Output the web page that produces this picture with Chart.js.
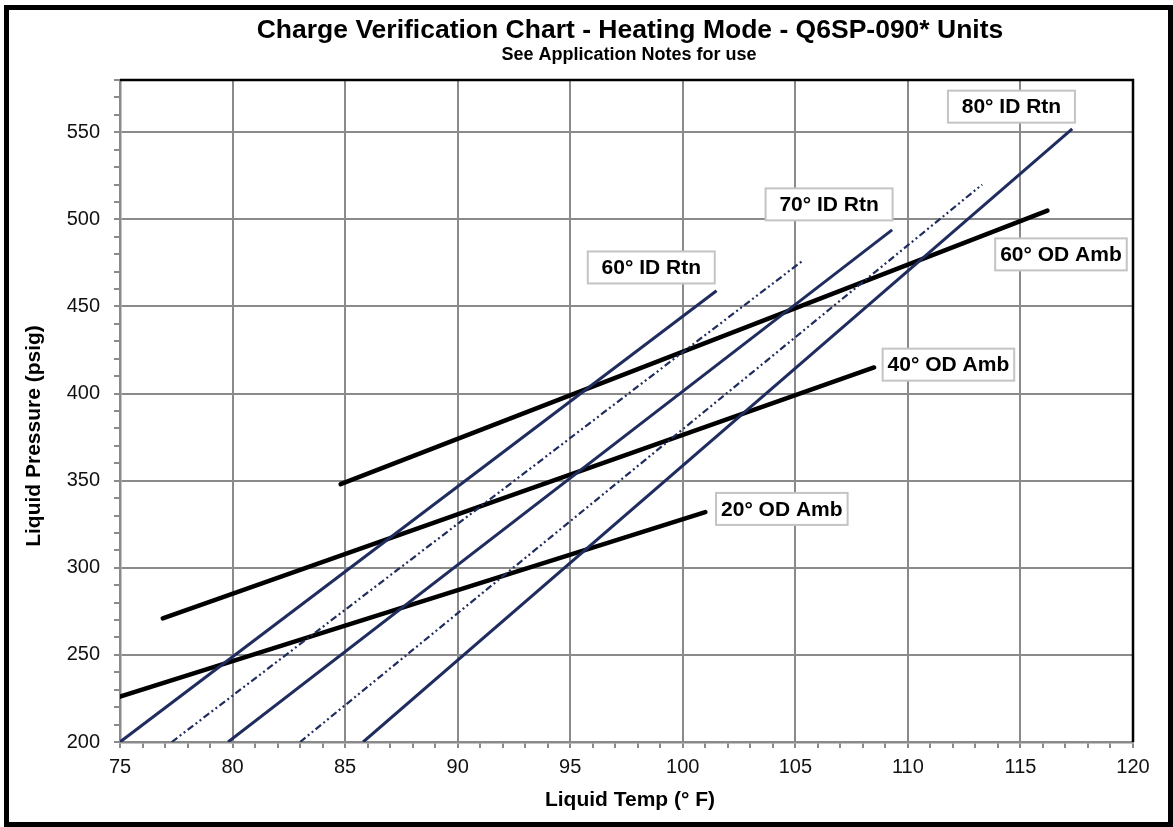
<!DOCTYPE html>
<html>
<head>
<meta charset="utf-8">
<script src="https://cdn.jsdelivr.net/npm/chart.js@4/dist/chart.umd.min.js"></script>
<style>
  body { margin: 0; background: #fff; }
  canvas { display: block; }
</style>
</head>
<body>
<canvas id="chart" width="1173" height="827"></canvas>
<script>
// outdoor ambient lines (black)
const odAmb20T = [75, 101.0];
const odAmb20P = [226, 332];
const odAmb40T = [76.9, 108.5];
const odAmb40P = [271, 415];
const odAmb60T = [84.8, 116.2];
const odAmb60P = [348, 505];

// indoor return lines (blue), dashed ones are the in-between temps
const idRtn60T = [75, 101.5];
const idRtn60P = [200, 459];
const idRtn65T = [77.3, 105.3];
const idRtn65P = [200, 476];
const idRtn70T = [79.8, 109.3];
const idRtn70P = [200, 494];
const idRtn75T = [83.0, 113.3];
const idRtn75P = [200, 520];
const idRtn80T = [85.8, 117.3];
const idRtn80P = [200, 552];

// callout boxes
const calloutText = ['80° ID Rtn', '70° ID Rtn', '60° ID Rtn', '60° OD Amb', '40° OD Amb', '20° OD Amb'];
const calloutT = [114.6, 106.5, 98.6, 116.8, 111.8, 104.4];
const calloutP = [564.7, 508.6, 472.4, 479.9, 416.6, 333.8];

const FONT = 'Liberation Sans, Arial, Helvetica, sans-serif';
const NAVY = '#1f2c5e';
const GRID = '#8a8a8a';

function pts(xs, ys) {
  return xs.map((x, i) => ({ x: x, y: ys[i] }));
}

function odLine(xs, ys) {
  return { data: pts(xs, ys), borderColor: '#000', borderWidth: 4.5, borderCapStyle: 'round', order: 2 };
}
function idLine(xs, ys, dashed) {
  return {
    data: pts(xs, ys), borderColor: NAVY,
    borderWidth: dashed ? 2.2 : 3,
    borderDash: dashed ? [7, 3, 2, 3, 2, 3] : [],
    order: 1
  };
}

const decor = {
  id: 'decor',
  beforeDraw(chart) {
    const ctx = chart.ctx;
    ctx.save();
    ctx.fillStyle = '#fff';
    ctx.fillRect(0, 0, chart.width, chart.height);
    ctx.restore();
  },
  afterDatasetsDraw(chart) {
    const ctx = chart.ctx;
    const a = chart.chartArea;
    const xs = chart.scales.x, ys = chart.scales.y;
    ctx.save();
    // black top/right plot border
    ctx.strokeStyle = '#000';
    ctx.lineWidth = 2.5;
    ctx.beginPath();
    ctx.moveTo(a.left, a.top);
    ctx.lineTo(a.right, a.top);
    ctx.lineTo(a.right, a.bottom);
    ctx.stroke();

    // callouts
    ctx.font = 'bold 21px ' + FONT;
    ctx.textAlign = 'center';
    ctx.textBaseline = 'middle';
    calloutText.forEach((t, i) => {
      const cx = xs.getPixelForValue(calloutT[i]);
      const cy = ys.getPixelForValue(calloutP[i]);
      const w = Math.max(127, ctx.measureText(t).width + 10);
      const h = 32;
      ctx.fillStyle = '#fff';
      ctx.fillRect(cx - w / 2, cy - h / 2, w, h);
      ctx.strokeStyle = '#c4c4c4';
      ctx.lineWidth = 2;
      ctx.strokeRect(cx - w / 2, cy - h / 2, w, h);
      ctx.fillStyle = '#000';
      ctx.fillText(t, cx, cy + 1);
    });
    ctx.restore();
  },
  afterDraw(chart) {
    const ctx = chart.ctx;
    ctx.save();
    ctx.fillStyle = '#000';
    ctx.textAlign = 'center';
    ctx.textBaseline = 'middle';
    ctx.font = 'bold 26.5px ' + FONT;
    ctx.fillText('Charge Verification Chart - Heating Mode - Q6SP-090* Units', 630, 31);
    ctx.font = 'bold 18px ' + FONT;
    ctx.fillText('See Application Notes for use', 629, 55);
    ctx.font = 'bold 21px ' + FONT;
    ctx.fillText('Liquid Temp (° F)', 630, 800);
    ctx.translate(34, 436);
    ctx.rotate(-Math.PI / 2);
    ctx.fillText('Liquid Pressure (psig)', 0, 0);
    ctx.restore();

    // outer frame
    ctx.save();
    ctx.strokeStyle = '#000';
    ctx.lineWidth = 5;
    ctx.strokeRect(6.5, 7.5, chart.width - 9, chart.height - 10);
    ctx.restore();
  }
};

new Chart(document.getElementById('chart'), {
  type: 'line',
  data: {
    datasets: [
      odLine(odAmb20T, odAmb20P),
      odLine(odAmb40T, odAmb40P),
      odLine(odAmb60T, odAmb60P),
      idLine(idRtn60T, idRtn60P, false),
      idLine(idRtn65T, idRtn65P, true),
      idLine(idRtn70T, idRtn70P, false),
      idLine(idRtn75T, idRtn75P, true),
      idLine(idRtn80T, idRtn80P, false)
    ]
  },
  options: {
    responsive: false,
    devicePixelRatio: 1,
    animation: false,
    layout: { padding: { left: 0, top: 80, right: 40, bottom: 0 } },
    elements: { point: { radius: 0 }, line: { tension: 0, fill: false } },
    plugins: { legend: { display: false }, tooltip: { enabled: false }, title: { display: false } },
    scales: {
      x: {
        type: 'linear',
        min: 75, max: 120,
        afterFit: s => { s.height = 85; },
        border: { color: GRID, width: 2.5 },
        grid: {
          lineWidth: 2,
          tickLength: 6,
          tickWidth: 2,
          tickColor: GRID,
          color: c => (c.tick && c.tick.value % 5 === 0) ? GRID : 'rgba(0,0,0,0)'
        },
        ticks: {
          stepSize: 1,
          autoSkip: false,
          maxRotation: 0,
          padding: 7,
          color: '#111',
          font: { family: FONT, size: 20 },
          callback: v => (v % 5 === 0 ? String(v) : '')
        }
      },
      y: {
        min: 200, max: 580,
        afterFit: s => { s.width = 120; },
        border: { color: GRID, width: 2.5 },
        grid: {
          lineWidth: 2,
          tickLength: 6,
          tickWidth: 2,
          tickColor: GRID,
          color: c => (c.tick && c.tick.value % 50 === 0) ? GRID : 'rgba(0,0,0,0)'
        },
        ticks: {
          stepSize: 10,
          autoSkip: false,
          padding: 14,
          color: '#111',
          font: { family: FONT, size: 20 },
          callback: v => (v % 50 === 0 ? String(v) : '')
        }
      }
    }
  },
  plugins: [decor]
});
</script>
</body>
</html>
